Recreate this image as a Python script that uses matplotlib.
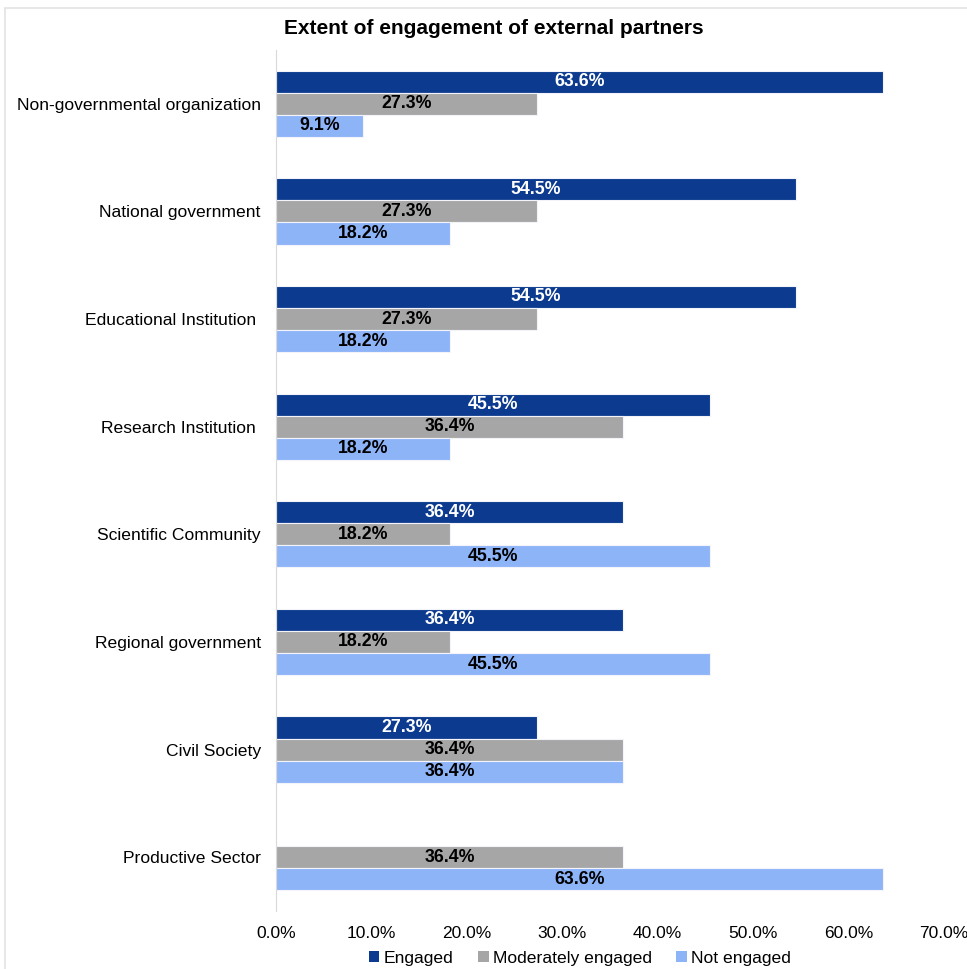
import numpy as np
import matplotlib
matplotlib.use("Agg")
import matplotlib.pyplot as plt
from matplotlib.patches import Patch, Rectangle
from matplotlib.ticker import FuncFormatter

plt.rcParams['font.family'] = ['Liberation Sans', 'DejaVu Sans']

categories = [
    "Non-governmental organization",
    "National government",
    "Educational Institution ",
    "Research Institution ",
    "Scientific Community",
    "Regional government",
    "Civil Society",
    "Productive Sector",
]
engaged = [63.6, 54.5, 54.5, 45.5, 36.4, 36.4, 27.3, None]
moderately_engaged = [27.3, 27.3, 27.3, 36.4, 18.2, 18.2, 36.4, 36.4]
not_engaged = [9.1, 18.2, 18.2, 18.2, 45.5, 45.5, 36.4, 63.6]
series_names = ["Engaged", "Moderately engaged", "Not engaged"]
colors = ["#0C3A8F", "#A6A6A6", "#8EB4F8"]
label_colors = ["white", "black", "black"]
x_ticks = [0, 10, 20, 30, 40, 50, 60, 70]

fig = plt.figure(figsize=(9.67, 9.69), dpi=100)
ax = fig.add_axes([276 / 967, 1 - 911 / 969, 668 / 967, 861 / 969])

# light frame around the chart area
fig.add_artist(Rectangle((5 / 967, -0.05), 1.1, 1 - 8 / 969 + 0.05,
                         transform=fig.transFigure, fill=False,
                         edgecolor="#E3E3E3", linewidth=1.2))

y = np.arange(len(categories))
h = 0.205
offsets = [-h, 0, h]
for vals, off, col, lcol, name in zip(
        [engaged, moderately_engaged, not_engaged], offsets, colors,
        label_colors, series_names):
    for yi, v in zip(y, vals):
        if v is None:
            continue
        ax.barh(yi + off, v, height=h, color=col, edgecolor="#F2F4FA",
                linewidth=0.8)
        ax.text(v / 2, yi + off, f"{v:.1f}%", ha="center", va="center",
                color=lcol, fontsize=12.8, fontweight="bold")

ax.set_ylim(len(categories) - 0.5, -0.5)
ax.set_xlim(0, 70)
ax.set_yticks(y)
ax.set_yticklabels(categories, fontsize=12.6)
ax.set_xticks(x_ticks)
ax.xaxis.set_major_formatter(FuncFormatter(lambda v, p: f"{v:.1f}%"))
ax.tick_params(axis="x", labelsize=12.5, length=0, pad=11)
ax.tick_params(axis="y", length=0, pad=11)
for s in ["top", "right", "bottom"]:
    ax.spines[s].set_visible(False)
ax.spines["left"].set_color("#D9D9D9")

fig.text(494 / 967, 1 - 28 / 969, "Extent of engagement of external partners",
         ha="center", va="center", fontsize=15, fontweight="bold")

handles = [Patch(facecolor=c, edgecolor="none") for c in colors]
fig.legend(handles, series_names, loc="center", ncol=3,
           bbox_to_anchor=(580 / 967, 1 - 958 / 969), frameon=False,
           fontsize=12.6, handlelength=0.6, handleheight=0.6,
           handletextpad=0.25, columnspacing=1.4)

fig.savefig("out.png", dpi=100)
